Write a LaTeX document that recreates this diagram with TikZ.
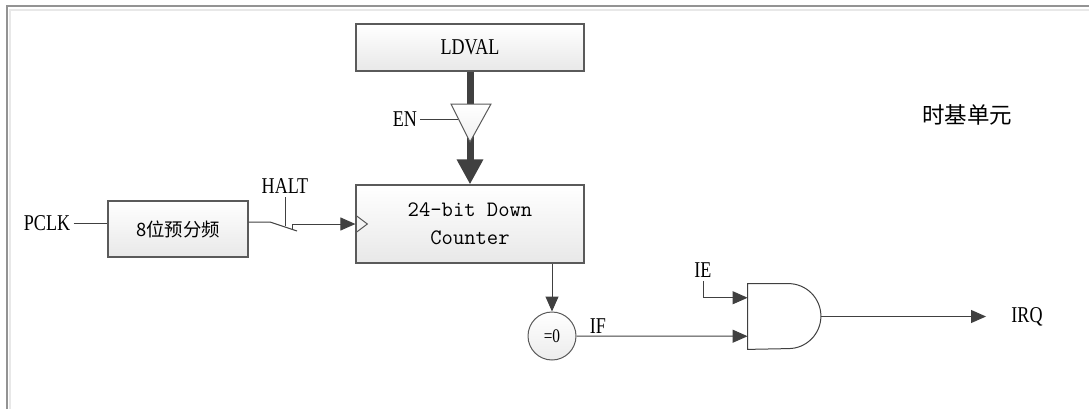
\documentclass[tikz,border=0pt]{standalone}
\usepackage{fontspec}
\setmainfont{Liberation Serif}[FakeStretch=0.8]
\newfontfamily\cjkfont{Noto Sans CJK SC}
\usepackage{tikz}
\usetikzlibrary{arrows.meta,calc}
\definecolor{linegray}{HTML}{404040}
\definecolor{boxedge}{HTML}{5A5A5A}

\begin{document}
\begin{tikzpicture}[x=0.5pt,y=0.5pt,>={Triangle[length=7.5pt,width=6.5pt]}]
\tikzset{blockbox/.style={ %
		draw=boxedge,
		line width=0.6pt,
		top color=white,
		bottom color=gray!18,
		inner sep=0pt
	},
	signal/.style={draw=linegray,line width=0.5pt},
	labeltext/.style={font=\fontsize{11.3}{13}\selectfont,inner sep=1.5pt}
}
\useasboundingbox (0,0) rectangle (1089,409);

% frame
\draw[gray!85,line width=0.9pt] (7,0) -- (7,403) -- (1089,403);
\draw[gray!18,line width=0.9pt] (10,0) -- (10,399) -- (1089,399);

\node[blockbox,minimum width=114pt,minimum height=23.5pt,labeltext] (ldval) at (470,361.5) {LDVAL};
\node[blockbox,minimum width=114pt,minimum height=39pt,align=center,
	font=\ttfamily\fontsize{11}{14}\selectfont] (counter) at (470,185) {24-bit Down\\Counter};
\node[blockbox,minimum width=70pt,minimum height=28pt,font=\cjkfont\fontsize{9.2}{11}\selectfont] (prescaler) at (178,180) {8位预分频};

% load path with enable buffer
\draw[linegray,line width=3.5pt,-{Triangle[length=12.5pt,width=12.5pt]}] (ldval.south) -- (counter.north);
\draw[boxedge,line width=0.5pt,top color=white,bottom color=gray!12] (451,305) -- (491,305) -- (470,267) -- cycle;
\coordinate (enin) at (458,290);
\node[labeltext] (en) at (405,290) {EN};
\draw[signal] (en) -- (enin);

% clock input
\draw[boxedge,line width=0.5pt] ($(counter.west)+(0,9)$) -- ($(counter.west)+(12,0)$) -- ($(counter.west)+(0,-9)$);

\node[labeltext] (pclk) at (47,186) {PCLK};
\draw[signal] (pclk) -- (prescaler.west |- pclk);

% halt switch
\coordinate (pivot) at (270,187);
\coordinate (blade) at (297,178);
\coordinate (haltbot) at (285,183);
\coordinate (halttop) at (285,212);
\coordinate (contact) at (292,180);
\draw[signal] (prescaler.east |- pivot) -- (pivot) -- (blade);
\draw[signal] (haltbot) -- (halttop) node[above,labeltext] (halt) {HALT};
\draw[signal,->] (contact) -- (contact |- counter.west) -- (counter.west);

% zero compare
\node[circle,draw=boxedge,line width=0.5pt,top color=white,bottom color=gray!15,minimum size=24pt,inner sep=0pt,
	font=\fontsize{9.6}{11}\selectfont] (zero) at (552,73) {=0};
\draw[signal,->] (counter.south -| zero) -- (zero.north);

% and gate
\node[minimum width=20pt,minimum height=32.5pt,inner sep=0pt] (gate) at (768,92.5) {};
\draw[signal] (gate.north west) -- (gate.north east) arc[start angle=90,end angle=-90,radius=16.25pt] -- (gate.south west) -- cycle;
\coordinate (gatein1) at ($(gate.north west)!0.215!(gate.south west)$);
\coordinate (gatein2) at ($(gate.north west)!0.8!(gate.south west)$);
\coordinate (gateout) at ($(gate.east)+(32.5,0)$);

\node[labeltext] (ie) at (703,139) {IE};
\node[labeltext] (if) at (598,83) {IF};
\node[labeltext] (irq) at (1027,92.5) {IRQ};
\draw[signal,->] (ie.south) |- (gatein1);
\draw[signal,->] (zero.east) -- (gatein2);
\draw[signal,->,shorten >=11pt] (gateout) -- (irq.west);

\node[font=\cjkfont\fontsize{11.25}{13}\selectfont] (title) at (967,294) {时基单元};

\end{tikzpicture}
\end{document}
